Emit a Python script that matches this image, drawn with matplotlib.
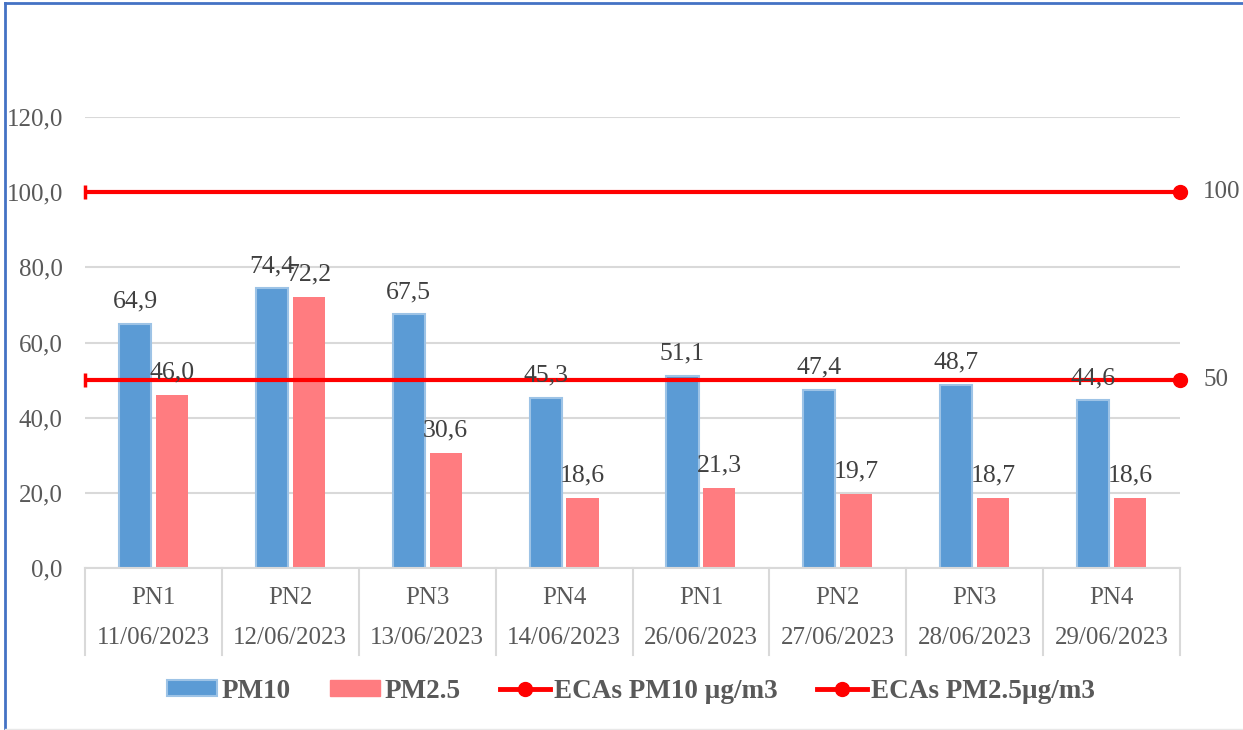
import matplotlib
matplotlib.use("Agg")

import matplotlib.pyplot as plt
from matplotlib.lines import Line2D
from matplotlib.patches import Patch
import numpy as np

points = ["PN1", "PN2", "PN3", "PN4", "PN1", "PN2", "PN3", "PN4"]
dates = ["11/06/2023", "12/06/2023", "13/06/2023", "14/06/2023",
         "26/06/2023", "27/06/2023", "28/06/2023", "29/06/2023"]
pm10 = [64.9, 74.4, 67.5, 45.3, 51.1, 47.4, 48.7, 44.6]
pm25 = [46.0, 72.2, 30.6, 18.6, 21.3, 19.7, 18.7, 18.6]
eca_pm10 = 100
eca_pm25 = 50
yticks = [0, 20, 40, 60, 80, 100, 120]

plt.rcParams["font.family"] = ["Liberation Serif", "DejaVu Serif"]
txt = "#595959"
blue = "#5B9BD5"
red_bar = "#FF7C80"
red = "#FF0000"
fs = 18

W, H = 1243, 730
fig = plt.figure(figsize=(W / 100, H / 100), dpi=100)
# plot area in pixels: x 85..1180, y 117..568
ax = fig.add_axes([85 / W, 1 - 568 / H, (1180 - 85) / W, (568 - 117) / H])

x = np.arange(len(points))
bw = 0.235
off = 0.135
ax.bar(x - off, pm10, bw, color=blue, edgecolor="#9DC3E6", linewidth=1.5, zorder=2)
ax.bar(x + off, pm25, bw, color=red_bar, edgecolor=red_bar, linewidth=0, zorder=2)

for i in range(len(x)):
    ax.text(x[i] - off, pm10[i] + 3, f"{pm10[i]:.1f}".replace(".", ","),
            ha="center", va="bottom", fontsize=18.5, color="#404040", zorder=4)
    ax.text(x[i] + off, pm25[i] + 3, f"{pm25[i]:.1f}".replace(".", ","),
            ha="center", va="bottom", fontsize=18.5, color="#404040", zorder=4)

x0, x1 = -0.5, len(x) - 0.5
for v in (eca_pm10, eca_pm25):
    ax.plot([x0, x1], [v, v], color=red, lw=3, zorder=3, solid_capstyle="butt")
    ax.plot([x1], [v], "o", color=red, ms=10, zorder=5, clip_on=False)
    ax.plot([x0], [v], "|", color=red, ms=10, mew=2.5, zorder=5, clip_on=False)
    ax.text(x1 + 0.17, v, f"{v}", ha="left", va="center", fontsize=fs, color=txt)

ax.set_xlim(x0, x1)
ax.set_ylim(0, 120)
ax.set_yticks(yticks)
ax.set_yticklabels([f"{t:.1f}".replace(".", ",") for t in yticks], fontsize=fs, color=txt)
ax.tick_params(axis="y", length=0, pad=16)
ax.set_xticks([])
ax.yaxis.grid(True, color="#D9D9D9", lw=1.5)
ax.set_axisbelow(True)
for s in ["top", "right", "left"]:
    ax.spines[s].set_visible(False)
ax.spines["bottom"].set_color("#D9D9D9")
ax.spines["bottom"].set_linewidth(1.5)

# two-level category axis
trans = ax.get_xaxis_transform()
sep_bottom = -(655 - 568) / (568 - 117)
for b in np.arange(x0, x1 + 1):
    ax.plot([b, b], [0, sep_bottom], color="#D9D9D9", lw=1.5, transform=trans, clip_on=False)
for i in range(len(x)):
    ax.text(x[i], -(598 - 568) / (568 - 117), points[i], transform=trans,
            ha="center", va="center", fontsize=fs, color=txt)
    ax.text(x[i], -(638 - 568) / (568 - 117), dates[i], transform=trans,
            ha="center", va="center", fontsize=fs, color=txt)

handles = [
    Patch(facecolor=blue, edgecolor="#9DC3E6", linewidth=1.5),
    Patch(facecolor=red_bar, edgecolor=red_bar),
    Line2D([0], [0], color=red, lw=3.5, marker="o", ms=10),
    Line2D([0], [0], color=red, lw=3.5, marker="o", ms=10),
]
labels = ["PM10", "PM2.5", "ECAs PM10 µg/m3", "ECAs PM2.5µg/m3"]
leg = fig.legend(handles, labels, loc="center", bbox_to_anchor=(631 / W, 1 - 691 / H),
                 ncol=4, frameon=False, handlelength=1.85, handleheight=0.55,
                 handletextpad=0.15, columnspacing=1.45,
                 prop={"weight": "bold", "size": 19.5})
for t in leg.get_texts():
    t.set_color(txt)

# outer border (blue on top and left)
fig.add_artist(Line2D([5 / W, 5 / W], [0, 1 - 3 / H], color="#4472C4", lw=2))
fig.add_artist(Line2D([5 / W, 1], [1 - 3 / H, 1 - 3 / H], color="#4472C4", lw=2))
fig.add_artist(Line2D([5 / W, 1], [1 / H, 1 / H], color="#E8E8E8", lw=1))

fig.savefig("out.png", dpi=100)
